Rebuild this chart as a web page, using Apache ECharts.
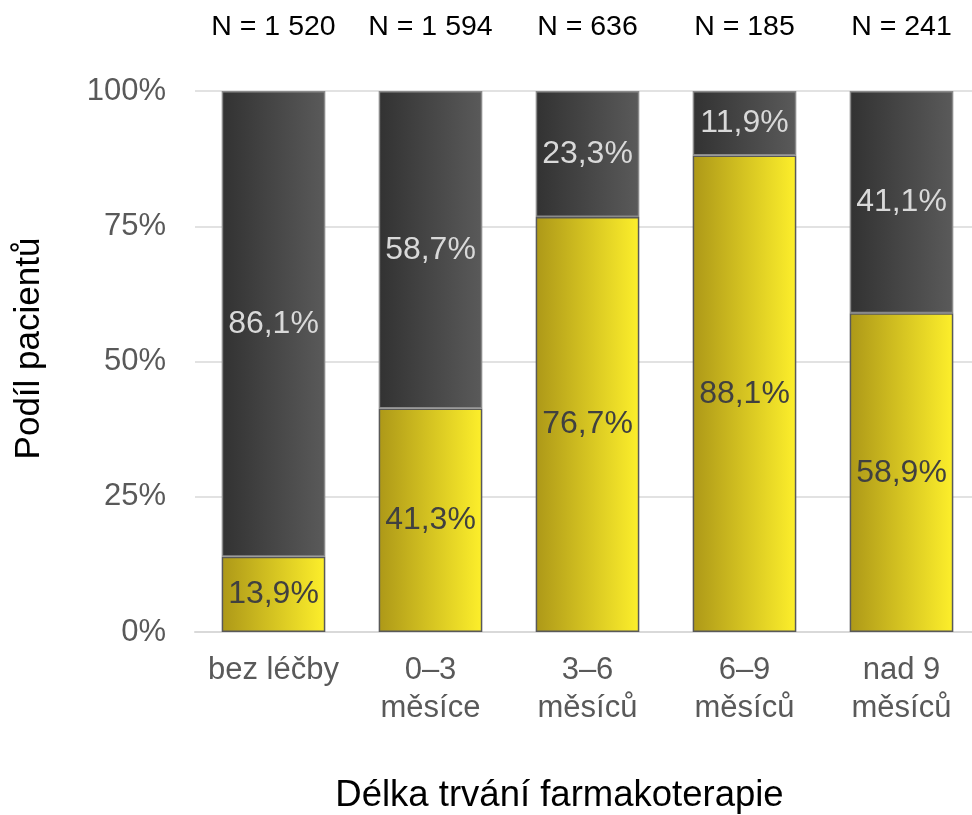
<!DOCTYPE html>
<html>
<head>
<meta charset="utf-8">
<script src="https://cdn.jsdelivr.net/npm/echarts@6/dist/echarts.min.js"></script>
<style>
  html, body { margin: 0; padding: 0; background: #fff; }
  #chart { width: 972px; height: 815px; }
</style>
</head>
<body>
<div id="chart"></div>
<script>
// data
const categories = ["bez léčby", "0–3\nměsíce", "3–6\nměsíců", "6–9\nměsíců", "nad 9\nměsíců"]
const counts = ["N = 1 520", "N = 1 594", "N = 636", "N = 185", "N = 241"]
const treatedShare = [13.9, 41.3, 76.7, 88.1, 58.9]
const otherShare = [86.1, 58.7, 23.3, 11.9, 41.1]
const yTicks = [0, 25, 50, 75, 100]

const font = "'Liberation Sans', Arial, sans-serif"

const yellowGrad = new echarts.graphic.LinearGradient(0, 0, 1, 0, [
  { offset: 0, color: "#ad9818" },
  { offset: 1, color: "#fdef2b" }
])
const darkGrad = new echarts.graphic.LinearGradient(0, 0, 1, 0, [
  { offset: 0, color: "#323232" },
  { offset: 1, color: "#5a5a5a" }
])

const fmt = (p) => p.value.toFixed(1).replace(".", ",") + "%"

const myChart = echarts.init(document.getElementById("chart"))
myChart.setOption({
  animation: false,
  textStyle: { fontFamily: font },
  grid: { left: 195, top: 91, width: 785, height: 541, outerBoundsMode: "none", containLabel: false },
  xAxis: [
    {
      type: "category",
      data: categories,
      axisLine: { lineStyle: { color: "#d9d9d9", width: 2 } },
      axisTick: { show: false },
      axisLabel: { color: "#595959", fontSize: 31, lineHeight: 38, margin: 19, interval: 0, fontFamily: font },
      name: "Délka trvání farmakoterapie",
      nameLocation: "middle",
      nameGap: 145,
      // title sits a bit left of the plot centre in the original
      nameTextStyle: { color: "#000", fontSize: 36.5, padding: [0, 56, 0, 0], fontFamily: font }
    },
    {
      type: "category",
      position: "top",
      data: counts,
      axisLine: { show: false },
      axisTick: { show: false },
      axisLabel: { color: "#000", fontSize: 28.5, margin: 49, interval: 0, fontFamily: font }
    }
  ],
  yAxis: {
    type: "value",
    min: yTicks[0],
    max: yTicks[yTicks.length - 1],
    interval: 25,
    axisLine: { show: false },
    axisTick: { show: false },
    splitLine: { lineStyle: { color: "#d9d9d9", width: 1.5 } },
    axisLabel: { color: "#595959", fontSize: 31, margin: 29, formatter: "{value}%", fontFamily: font },
    name: "Podíl pacientů",
    nameLocation: "middle",
    nameGap: 148,
    nameTextStyle: { color: "#000", fontSize: 35, padding: [0, 0, 0, 26], fontFamily: font }
  },
  series: [
    {
      type: "bar",
      stack: "a",
      data: treatedShare,
      barWidth: "66%",
      itemStyle: { color: yellowGrad, borderColor: "#595959", borderWidth: 1.5 },
      label: { show: true, position: "inside", color: "#404040", fontSize: 32, formatter: fmt, fontFamily: font }
    },
    {
      type: "bar",
      stack: "a",
      data: otherShare,
      barWidth: "66%",
      itemStyle: { color: darkGrad, borderColor: "#8a8a8a", borderWidth: 1.5 },
      label: { show: true, position: "inside", color: "#d9d9d9", fontSize: 32, formatter: fmt, fontFamily: font }
    }
  ]
})
</script>
</body>
</html>
